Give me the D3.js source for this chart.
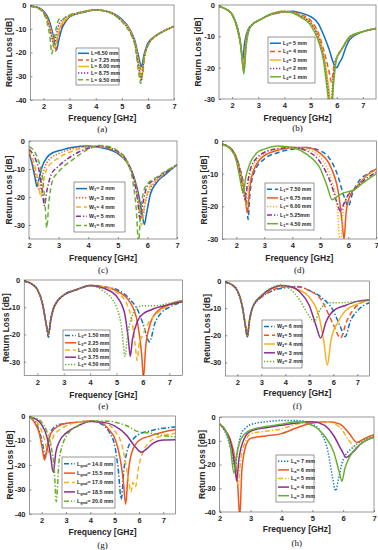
<!DOCTYPE html>
<html>
<head>
<meta charset="utf-8">
<script src="https://cdn.jsdelivr.net/npm/d3@7"></script>
<style>
  body { margin: 0; background: #fff; }
  svg { display: block; font-family: "Liberation Sans", Arial, sans-serif; }
</style>
</head>
<body>
<svg id="chart" width="378" height="550"></svg>
<script>
// ---- data (frequency GHz, return loss dB) ----
const colors = ["#0b72c6", "#f0561d", "#f5b120", "#8a2e93", "#6ab02f"];

// (a) L
const aLabels = ["L=6.50 mm", "L= 7.25 mm", "L= 8.00 mm", "L= 8.75 mm", "L= 9.50 mm"];
const a1 = [[1.5,-0.5],[1.8,-1],[2.0,-2.5],[2.2,-6],[2.35,-12],[2.45,-17.5],[2.5,-19],[2.58,-15],[2.7,-10],[2.85,-7],[3.0,-5],[3.5,-3.2],[4.0,-2.1],[4.5,-2.8],[5.0,-6],[5.3,-10],[5.5,-15],[5.65,-22],[5.75,-26],[5.85,-21],[6.0,-16],[6.3,-13],[6.6,-11],[7.0,-9]];
const a2 = [[1.5,-0.5],[1.8,-1.2],[2.0,-3],[2.2,-7],[2.35,-14],[2.45,-19.5],[2.53,-15],[2.65,-10],[2.85,-6.5],[3.0,-4.8],[3.5,-3],[4.0,-2],[4.5,-2.9],[5.0,-6.5],[5.3,-10.5],[5.5,-16],[5.68,-25],[5.78,-30],[5.87,-22],[6.0,-17],[6.3,-13],[6.6,-11],[7.0,-9]];
const a3 = [[1.5,-0.5],[1.8,-1.2],[2.0,-3],[2.2,-7.5],[2.35,-14],[2.43,-18],[2.52,-14],[2.65,-9],[2.85,-6],[3.0,-4.7],[3.5,-3],[4.0,-2],[4.5,-3],[5.0,-6.5],[5.3,-10.5],[5.5,-16],[5.67,-26],[5.76,-31],[5.86,-22],[6.0,-17],[6.3,-13],[6.6,-11],[7.0,-9]];
const a4 = [[1.5,-0.5],[1.8,-1.3],[2.0,-3.2],[2.2,-8],[2.32,-14],[2.4,-17],[2.48,-13],[2.6,-8],[2.8,-5.5],[3.0,-4.5],[3.5,-2.9],[4.0,-2],[4.5,-3],[5.0,-6.8],[5.3,-11],[5.5,-16.5],[5.66,-27],[5.74,-32],[5.84,-23],[6.0,-17],[6.3,-13],[6.6,-11],[7.0,-9]];
const a5 = [[1.5,-0.5],[1.8,-1.5],[2.0,-3.5],[2.15,-8],[2.25,-14],[2.32,-20.5],[2.4,-15],[2.5,-9],[2.6,-6],[2.7,-6.5],[2.85,-5],[3.0,-4.2],[3.5,-2.8],[4.0,-2],[4.5,-3],[5.0,-7],[5.3,-11.5],[5.5,-17],[5.64,-28],[5.72,-33],[5.82,-24],[6.0,-17],[6.3,-13],[6.6,-11],[7.0,-9]];

// (b) L2
const bLabels = ["L_2= 5 mm", "L_2= 4 mm", "L_2= 3 mm", "L_2= 2 mm", "L_2= 1 mm"];
const b1 = [[1.5,-0.5],[1.8,-1.5],[2.0,-3],[2.2,-7],[2.32,-12],[2.4,-18],[2.48,-12],[2.6,-8],[2.8,-6],[3.0,-5],[3.5,-3],[4.0,-2.2],[4.3,-2],[4.6,-2.5],[5.0,-3.7],[5.3,-6],[5.5,-9.6],[5.7,-14],[5.9,-19],[6.0,-20],[6.1,-18.5],[6.2,-17],[6.35,-13.5],[6.5,-11],[7.0,-8.5],[7.5,-7.5]];
const b2 = [[1.5,-0.5],[1.8,-1.5],[2.0,-3],[2.2,-7.5],[2.35,-14],[2.43,-20],[2.5,-13],[2.62,-8],[2.8,-6],[3.0,-5],[3.5,-3],[4.0,-2.2],[4.3,-2.2],[4.6,-3],[5.0,-4.9],[5.3,-9],[5.5,-14.3],[5.7,-21],[5.8,-24.5],[5.9,-19],[6.0,-17],[6.2,-14],[6.5,-10.5],[7.0,-8.5],[7.5,-7.5]];
const b3 = [[1.5,-0.5],[1.8,-1.5],[2.0,-3],[2.2,-7.5],[2.35,-14],[2.44,-21],[2.52,-13],[2.63,-8],[2.8,-6],[3.0,-5],[3.5,-3],[4.0,-2.1],[4.3,-2.3],[4.6,-3.3],[5.0,-5.5],[5.3,-10],[5.5,-16],[5.7,-27],[5.78,-33],[5.86,-24],[5.95,-18],[6.2,-14],[6.5,-10.3],[7.0,-8.5],[7.5,-7.5]];
const b4 = [[1.5,-0.5],[1.8,-1.5],[2.0,-3],[2.2,-7.5],[2.35,-14],[2.45,-21],[2.53,-13],[2.64,-8],[2.8,-6],[3.0,-5],[3.5,-3],[4.0,-2],[4.3,-2.4],[4.6,-3.5],[5.0,-5.8],[5.3,-10.5],[5.5,-17],[5.68,-28],[5.77,-34],[5.86,-24],[5.95,-18],[6.2,-14],[6.5,-10.2],[7.0,-8.5],[7.5,-7.5]];
const b5 = [[1.5,-0.5],[1.8,-1.5],[2.0,-3],[2.2,-7.5],[2.35,-14],[2.45,-22],[2.54,-13],[2.65,-8],[2.8,-6],[3.0,-5],[3.5,-2.8],[3.9,-2],[4.3,-2.5],[4.6,-3.8],[5.0,-6.4],[5.3,-11.5],[5.5,-18],[5.65,-28],[5.78,-36],[5.88,-25],[6.0,-17],[6.2,-14],[6.5,-10],[7.0,-8.5],[7.5,-7.5]];

// (c) W1
const cLabels = ["W_1= 2 mm", "W_1= 3 mm", "W_1= 4 mm", "W_1= 5 mm", "W_1= 6 mm"];
const c1 = [[2.0,-4],[2.1,-8],[2.2,-13],[2.27,-16.3],[2.35,-13],[2.45,-9],[2.6,-6],[2.8,-4.2],[3.0,-3.5],[3.5,-2.2],[4.0,-1.8],[4.5,-2.5],[5.0,-4.5],[5.3,-7.5],[5.55,-13],[5.7,-19],[5.82,-26],[5.9,-29.8],[5.97,-26],[6.1,-19],[6.3,-15],[6.6,-12],[7.0,-8.5]];
const c2 = [[2.0,-4.5],[2.15,-9],[2.28,-15],[2.35,-18],[2.42,-14],[2.55,-9],[2.75,-6],[3.0,-4.5],[3.5,-2.7],[4.0,-2],[4.5,-2.3],[5.0,-4.3],[5.3,-7.5],[5.55,-13],[5.7,-20],[5.83,-28],[5.93,-22],[6.1,-17],[6.4,-13.5],[7.0,-8.5]];
const c3 = [[2.0,-3.5],[2.2,-9],[2.32,-15],[2.4,-20],[2.48,-15],[2.6,-10],[2.8,-7.5],[3.0,-6],[3.5,-3.5],[4.0,-2.2],[4.5,-2],[5.0,-4],[5.3,-7.5],[5.55,-14],[5.7,-22],[5.8,-30],[5.9,-23],[6.05,-17],[6.4,-13],[7.0,-8.5]];
const c4 = [[2.0,-3],[2.2,-6],[2.35,-11],[2.45,-18],[2.52,-23],[2.6,-18],[2.75,-12],[3.0,-9],[3.5,-5],[4.0,-2.6],[4.4,-1.8],[5.0,-3.8],[5.3,-7],[5.55,-14],[5.68,-22],[5.75,-28],[5.85,-22],[6.0,-16],[6.3,-13.5],[7.0,-8.5]];
const c5 = [[2.0,-2],[2.2,-4],[2.35,-8],[2.48,-15],[2.55,-24],[2.6,-31],[2.67,-22],[2.8,-14],[3.0,-11],[3.5,-6.5],[4.0,-3],[4.4,-1.6],[4.7,-2],[5.0,-3.5],[5.3,-7],[5.5,-14],[5.62,-24],[5.7,-36],[5.78,-24],[5.95,-16],[6.3,-13],[7.0,-8.5]];

// (d) L1
const dLabels = ["L_1= 7.50 mm", "L_1= 6.75 mm", "L_1= 6.00 mm", "L_1= 5.25mm", "L_1= 4.50 mm"];
const d1 = [[1.5,-1],[1.8,-2.2],[2.0,-5],[2.15,-9],[2.3,-15],[2.38,-20],[2.42,-24],[2.48,-17],[2.62,-10],[3.0,-5.5],[3.5,-3.5],[4.0,-2.5],[4.5,-2],[5.0,-3],[5.3,-5],[5.6,-10],[5.85,-17],[6.0,-20],[6.15,-16],[6.4,-12],[6.7,-10],[7.0,-8.5]];
const d2 = [[1.5,-1],[1.8,-2.2],[2.0,-5],[2.15,-9.5],[2.28,-15],[2.4,-22],[2.47,-15],[2.62,-9],[3.0,-4.5],[3.5,-2.8],[4.0,-2],[4.5,-2],[5.0,-3.8],[5.4,-8.5],[5.65,-16],[5.78,-25],[5.85,-30],[5.92,-22],[6.05,-17],[6.3,-14],[6.6,-11],[7.0,-8.5]];
const d3v = [[1.5,-1],[1.8,-2.2],[2.0,-5],[2.15,-10],[2.28,-16],[2.37,-20],[2.44,-14],[2.58,-8],[3.0,-4],[3.5,-2.5],[4.0,-2],[4.5,-2.5],[5.0,-5],[5.4,-12],[5.6,-20],[5.72,-32],[5.8,-23],[5.95,-17],[6.3,-14],[6.6,-11],[7.0,-9]];
const d4 = [[1.5,-1],[1.8,-2.3],[2.0,-5.5],[2.15,-11],[2.25,-16],[2.32,-18],[2.4,-13],[2.55,-7.5],[3.0,-3.5],[3.5,-2.3],[4.0,-2],[4.5,-3],[5.0,-6.5],[5.4,-13.5],[5.6,-19],[5.72,-21.5],[5.85,-19],[6.0,-16.5],[6.2,-15],[6.5,-12.5],[7.0,-9.5]];
const d5 = [[1.5,-1],[1.8,-2.5],[2.0,-6],[2.12,-11],[2.25,-16],[2.34,-11],[2.48,-7],[2.75,-3.5],[3.0,-2.5],[3.5,-1.5],[4.0,-2],[4.5,-4],[5.0,-8.5],[5.25,-14],[5.42,-18],[5.6,-17],[5.8,-16],[6.0,-15.5],[6.2,-15],[6.5,-13],[7.0,-10]];

// (e) L3
const eLabels = ["L_3= 1.50 mm", "L_3= 2.25 mm", "L_3= 3.00 mm", "L_3= 3.75 mm", "L_3= 4.50 mm"];
const e1 = [[1.5,-0.5],[1.8,-1.5],[2.0,-3.5],[2.2,-9],[2.33,-16],[2.42,-21],[2.5,-15],[2.65,-9.5],[3.0,-5.5],[3.5,-3.5],[4.0,-2],[4.5,-2.5],[5.0,-3.5],[5.5,-7],[5.8,-11],[6.0,-16],[6.25,-22.7],[6.45,-16],[6.7,-12],[7.0,-10],[7.5,-8]];
const e2 = [[1.5,-0.5],[1.8,-1.5],[2.0,-3.5],[2.2,-9],[2.33,-16],[2.42,-20],[2.5,-15],[2.65,-9.5],[3.0,-5.5],[3.5,-3.5],[4.0,-2],[4.5,-2.5],[5.0,-4],[5.5,-8],[5.8,-16],[5.95,-27],[6.02,-36],[6.1,-25],[6.25,-17],[6.5,-12],[7.0,-9],[7.5,-7.5]];
const e3 = [[1.5,-0.5],[1.8,-1.5],[2.0,-3.5],[2.2,-9],[2.33,-16],[2.42,-20],[2.5,-15],[2.65,-9.5],[3.0,-5.5],[3.5,-3.5],[4.0,-2],[4.5,-2.5],[5.0,-4.5],[5.4,-9],[5.6,-16],[5.72,-25],[5.78,-29.5],[5.85,-24],[6.0,-20],[6.2,-16],[6.5,-12.5],[7.0,-9.5],[7.5,-8]];
const e4 = [[1.5,-0.5],[1.8,-1.5],[2.0,-3.5],[2.2,-9],[2.33,-16],[2.42,-20],[2.5,-15],[2.65,-9.5],[3.0,-5.5],[3.5,-3.5],[4.0,-2],[4.5,-3],[5.0,-6],[5.3,-12],[5.45,-22],[5.52,-28],[5.6,-22],[5.8,-15],[6.0,-12.5],[6.3,-11],[7.0,-9],[7.5,-8]];
const e5 = [[1.5,-0.5],[1.8,-1.5],[2.0,-3.5],[2.2,-9],[2.33,-16],[2.42,-20],[2.5,-15],[2.65,-9.5],[3.0,-5.5],[3.5,-3.5],[4.0,-2.2],[4.5,-4],[5.0,-10],[5.2,-18],[5.32,-28],[5.42,-20],[5.6,-13],[5.8,-10],[6.0,-9.5],[6.5,-9.5],[7.0,-8.5],[7.5,-7.5]];

// (f) W2
const fLabels = ["W_2= 6 mm", "W_2= 5 mm", "W_2= 4 mm", "W_2= 3 mm", "W_2= 2 mm"];
const f1 = [[1.5,-0.5],[1.8,-1.5],[2.0,-3.5],[2.2,-9],[2.33,-16],[2.42,-20.5],[2.5,-15],[2.65,-9.5],[3.0,-6],[3.5,-3.5],[4.0,-2.5],[4.5,-2],[5.0,-3.5],[5.5,-6],[6.0,-11],[6.3,-17],[6.5,-20.5],[6.7,-15],[7.0,-11],[7.5,-8]];
const f2 = [[1.5,-0.5],[1.8,-1.5],[2.0,-3.5],[2.2,-9],[2.33,-16],[2.42,-20.5],[2.5,-15],[2.65,-9.5],[3.0,-6],[3.5,-3.2],[4.0,-2.2],[4.5,-2.2],[5.0,-3.5],[5.5,-7],[6.0,-16],[6.3,-21],[6.55,-15],[7.0,-9],[7.5,-7]];
const f3 = [[1.5,-0.5],[1.8,-1.5],[2.0,-3.5],[2.2,-9],[2.33,-16],[2.42,-20.5],[2.5,-15],[2.65,-9.5],[3.0,-5.5],[3.5,-2.5],[3.8,-1.8],[4.5,-3],[5.0,-6],[5.4,-13],[5.6,-22],[5.75,-31],[5.9,-22],[6.2,-15],[6.5,-11],[7.0,-8.5],[7.5,-7]];
const f4 = [[1.5,-0.5],[1.8,-1.5],[2.0,-3.5],[2.2,-9],[2.33,-16],[2.42,-20.5],[2.5,-15],[2.65,-9.5],[3.0,-5.5],[3.5,-2.4],[3.8,-1.7],[4.2,-2],[4.6,-4],[5.0,-9],[5.3,-17],[5.47,-21],[5.7,-15],[6.0,-11],[6.5,-9],[7.0,-7.5],[7.5,-7]];
const f5 = [[1.5,-0.5],[1.8,-1.5],[2.0,-3.5],[2.2,-9],[2.33,-16],[2.42,-20.5],[2.5,-15],[2.65,-9.5],[3.0,-5.2],[3.5,-2.2],[3.8,-1.5],[4.2,-3],[4.6,-7],[5.0,-13],[5.2,-15],[5.45,-10.5],[5.8,-8],[6.2,-8],[7.0,-7.5],[7.5,-7]];

// (g) Lgnd
const gLabels = ["L_{gnd}= 14.0 mm", "L_{gnd}= 15.5 mm", "L_{gnd}= 17.0 mm", "L_{gnd}= 18.5 mm", "L_{gnd}= 20.0 mm"];
const g1 = [[1.5,-0.5],[1.7,-2],[1.9,-6],[2.05,-12],[2.15,-17],[2.25,-12],[2.4,-6],[2.7,-3.5],[3.0,-3],[3.5,-2.5],[4.0,-2],[4.5,-3.5],[4.8,-7],[5.0,-12],[5.15,-22],[5.27,-34],[5.38,-22],[5.55,-13],[5.8,-9],[6.0,-7.5],[6.5,-6],[7.0,-5],[7.5,-4.5]];
const g2 = [[1.5,-0.5],[1.7,-2.5],[1.9,-7],[2.02,-13],[2.12,-18],[2.22,-13],[2.38,-7],[2.7,-4],[3.0,-3],[3.5,-2.5],[4.0,-2],[4.5,-3],[4.8,-6],[5.0,-9],[5.2,-16],[5.35,-26],[5.45,-36],[5.55,-24],[5.7,-15],[6.0,-10],[6.5,-8],[7.0,-6.5],[7.5,-5.5]];
const g3 = [[1.5,-0.5],[1.8,-2.5],[2.0,-6],[2.15,-11],[2.25,-15],[2.35,-12],[2.5,-8],[2.75,-5.5],[3.0,-4],[3.5,-2.5],[4.0,-2],[4.5,-2.5],[5.0,-6],[5.3,-12],[5.5,-22],[5.6,-28],[5.67,-31],[5.75,-27],[5.85,-29],[6.0,-20],[6.2,-14],[6.5,-10],[7.0,-8],[7.5,-7]];
const g4 = [[1.5,-0.5],[1.8,-1.5],[2.0,-3.5],[2.2,-8],[2.35,-15],[2.48,-23],[2.58,-15],[2.75,-10],[3.0,-7],[3.5,-4],[4.0,-2.2],[4.5,-2.5],[5.0,-4],[5.5,-8],[5.8,-12],[6.1,-14.8],[6.3,-13.5],[6.6,-11],[7.0,-9.8],[7.5,-9.7]];
const g5 = [[1.5,-0.5],[1.8,-1],[2.0,-2.5],[2.2,-6],[2.4,-13],[2.52,-22],[2.6,-35],[2.7,-20],[2.85,-12],[3.0,-8.5],[3.5,-4],[4.0,-2],[4.5,-2],[5.0,-2.5],[5.5,-4],[6.0,-6.5],[6.5,-7],[7.0,-8],[7.5,-8.5]];

// (h) La
const hLabels = ["L_a= 7 mm", "L_a= 6 mm", "L_a= 5 mm", "L_a= 4 mm", "L_a= 3 mm"];
const h1 = [[2.0,-3],[2.2,-7],[2.35,-13],[2.45,-19],[2.5,-22],[2.58,-14],[2.7,-7],[2.85,-4.5],[3.0,-3.2],[3.5,-2],[4.0,-1.5],[4.5,-1.5],[5.0,-3],[5.3,-7],[5.5,-14],[5.65,-25],[5.76,-31],[5.85,-26],[6.0,-18],[6.3,-13],[6.6,-10],[7.0,-8]];
const h2 = [[2.0,-3],[2.2,-6],[2.35,-10],[2.5,-18],[2.58,-28],[2.65,-42],[2.72,-22],[2.85,-12],[3.0,-9],[3.5,-8],[4.0,-7],[4.5,-4.5],[5.0,-2.5],[5.5,-2],[5.9,-3],[6.2,-7],[6.45,-10.7],[6.7,-9],[7.0,-7.5]];
const h3 = [[2.0,-3],[2.2,-6],[2.4,-12],[2.52,-22],[2.6,-28.7],[2.68,-18],[2.85,-10],[3.0,-7],[3.5,-6],[4.0,-5],[4.5,-3],[5.0,-2],[5.5,-2],[5.9,-4.5],[6.2,-10],[6.4,-13],[6.6,-11],[7.0,-8]];
const h4 = [[2.0,-3],[2.2,-6],[2.4,-13],[2.5,-22],[2.55,-26.8],[2.62,-18],[2.8,-9],[3.0,-6],[3.5,-4.5],[4.0,-3.5],[4.5,-2.5],[5.0,-2],[5.4,-3.5],[5.7,-8],[5.95,-14],[6.1,-17],[6.3,-15],[6.6,-11],[7.0,-8.5]];
const h5 = [[2.0,-3],[2.2,-6],[2.35,-13],[2.46,-23.7],[2.55,-16],[2.7,-9],[3.0,-5.5],[3.5,-4],[4.0,-3],[4.5,-2],[5.0,-3.5],[5.4,-8],[5.7,-15],[5.87,-23],[5.96,-27],[6.05,-22],[6.2,-17],[6.5,-12],[7.0,-8.5]];

const xTicks = [2, 3, 4, 5, 6, 7];

// ---- layout ----
const DASH = { solid: null, dash: "5,3", dot: "1.3,1.7", dashdot: "5,2,1.3,2" };

const panels = [
  { tag: "(a)", series: [a1, a2, a3, a4, a5], labels: aLabels, styles: ["solid","dash","solid","dot","dash"],
    x: [1.5, 7], y: [-40, 0], box: [30.5, 5, 174, 100], yTicks: [0,-10,-20,-30,-40],
    leg: [76, 48, 43, 37], ylab: 9, xlabY: 118, tagY: 129 },
  { tag: "(b)", series: [b1, b2, b3, b4, b5], labels: bLabels, styles: ["solid","dash","solid","dot","solid"],
    x: [1.5, 7.5], y: [-30, 0], box: [219, 5, 376, 99], yTicks: [0,-10,-20,-30],
    leg: [268, 37, 47, 46], ylab: 198, xlabY: 118, tagY: 128 },
  { tag: "(c)", series: [c1, c2, c3, c4, c5], labels: cLabels, styles: ["solid","dot","dash","dashdot","dash"],
    x: [2, 7], y: [-35, 0], box: [29, 141, 177, 239], yTicks: [0,-10,-20,-30],
    leg: [74, 182, 51, 50], ylab: 9, xlabY: 258, tagY: 270 },
  { tag: "(d)", series: [d1, d2, d3v, d4, d5], labels: dLabels, styles: ["dash","solid","dot","dashdot","solid"],
    x: [1.5, 7], y: [-30, 0], box: [222.3, 141, 376.3, 239], yTicks: [0,-10,-20,-30],
    leg: [265, 183, 49, 47], ylab: 204, xlabY: 258, tagY: 270 },
  { tag: "(e)", series: [e1, e2, e3, e4, e5], labels: eLabels, styles: ["dashdot","solid","dash","solid","dot"],
    x: [1.5, 7.5], y: [-35, 0], box: [24.2, 280, 182.5, 375.3], yTicks: [0,-10,-20,-30],
    leg: [63, 330, 47, 40], ylab: 6, xlabY: 395, tagY: 406 },
  { tag: "(f)", series: [f1, f2, f3, f4, f5], labels: fLabels, styles: ["dashdot","dash","solid","solid","dot"],
    x: [1.5, 7.5], y: [-35, 0], box: [225.3, 281, 369.3, 376], yTicks: [0,-10,-20,-30],
    leg: [262, 320, 40, 48], ylab: 207, xlabY: 393, tagY: 406 },
  { tag: "(g)", series: [g1, g2, g3, g4, g5], labels: gLabels, styles: ["dashdot","solid","dash","solid","dashdot"],
    x: [1.5, 7.5], y: [-40, 0], box: [29.5, 416, 175.5, 514], yTicks: [0,-10,-20,-30,-40],
    leg: [62, 457, 53, 51], ylab: 10, xlabY: 532, tagY: 545 },
  { tag: "(h)", series: [h1, h2, h3, h4, h5], labels: hLabels, styles: ["dot","solid","dashdot","solid","solid"],
    x: [2, 7], y: [-40, 0], box: [219.7, 417, 374, 512], yTicks: [0,-10,-20,-30,-40],
    leg: [276, 455, 38, 47], ylab: 202, xlabY: 529, tagY: 543 }
];

const svg = d3.select("#chart");
const ink = "#262626";

// label with optional subscript: "L_2= 5 mm" or "L_{gnd}= 14.0 mm"
function subText(sel, str) {
  const m = str.match(/^([^_]*)_(\{([^}]*)\}|(.))(.*)$/);
  if (!m) { sel.text(str); return; }
  sel.append("tspan").text(m[1]);
  sel.append("tspan").attr("baseline-shift", "-25%").attr("font-size", "0.75em").text(m[3] || m[4]);
  sel.append("tspan").text(m[5]);
}

panels.forEach((p, pi) => {
  const [x0, y0, x1, y1] = p.box;
  const x = d3.scaleLinear().domain(p.x).range([x0, x1]);
  const y = d3.scaleLinear().domain(p.y).range([y1, y0]);
  const g = svg.append("g");

  g.append("rect").attr("x", x0).attr("y", y0).attr("width", x1 - x0).attr("height", y1 - y0).attr("fill", "#fff");

  const clipId = "clip" + pi;
  g.append("clipPath").attr("id", clipId).append("rect")
    .attr("x", x0).attr("y", y0).attr("width", x1 - x0).attr("height", y1 - y0);

  const line = d3.line().x(d => x(d[0])).y(d => y(d[1])).curve(d3.curveMonotoneX);
  const lines = g.append("g").attr("clip-path", `url(#${clipId})`);
  p.series.forEach((s, i) => {
    lines.append("path").datum(s)
      .attr("fill", "none")
      .attr("stroke", colors[i])
      .attr("stroke-width", 1.5)
      .attr("stroke-dasharray", DASH[p.styles[i]])
      .attr("d", line);
  });

  // axes (inward ticks, box)
  const xAxis = g.append("g").attr("transform", `translate(0,${y1})`)
    .call(d3.axisBottom(x).tickValues(xTicks).tickSizeInner(-2).tickSizeOuter(0).tickPadding(4).tickFormat(d3.format("d")));
  const yAxis = g.append("g").attr("transform", `translate(${x0},0)`)
    .call(d3.axisLeft(y).tickValues(p.yTicks).tickSizeInner(-2).tickSizeOuter(0).tickPadding(4).tickFormat(d => d === 0 ? "0" : "-" + Math.abs(d)));
  [xAxis, yAxis].forEach(a => {
    a.select(".domain").remove();
    a.selectAll("line").attr("stroke", ink).attr("stroke-width", 0.5);
    a.selectAll("text").attr("fill", ink).attr("font-size", 7.5).attr("font-weight", "bold");
  });
  g.append("rect").attr("x", x0).attr("y", y0).attr("width", x1 - x0).attr("height", y1 - y0)
    .attr("fill", "none").attr("stroke", "#555").attr("stroke-width", 0.6);

  g.append("text").attr("x", (x0 + x1) / 2).attr("y", p.xlabY).attr("dy", "0.35em")
    .attr("text-anchor", "middle").attr("font-size", 8.5).attr("font-weight", "bold").attr("fill", ink)
    .text("Frequency [GHz]");
  g.append("text").attr("transform", `translate(${p.ylab},${(y0 + y1) / 2}) rotate(-90)`)
    .attr("text-anchor", "middle").attr("dy", "0.35em").attr("font-size", 8.5).attr("font-weight", "bold").attr("fill", ink)
    .text("Return Loss [dB]");
  g.append("text").attr("x", (x0 + x1) / 2).attr("y", p.tagY).attr("dy", "0.35em")
    .attr("text-anchor", "middle").attr("font-size", 9).attr("font-family", "'Liberation Serif', serif").attr("fill", "#111")
    .text(p.tag);

  // legend
  const [lx, ly, lw, lh] = p.leg;
  const lg = g.append("g").attr("transform", `translate(${lx},${ly})`);
  lg.append("rect").attr("width", lw).attr("height", lh).attr("fill", "#fff")
    .attr("stroke", "#333").attr("stroke-width", 0.5);
  const rowH = (lh - 4) / 5;
  p.labels.forEach((lab, i) => {
    const cy = 2 + rowH * (i + 0.5);
    lg.append("line").attr("x1", 2).attr("x2", 13).attr("y1", cy).attr("y2", cy)
      .attr("stroke", colors[i]).attr("stroke-width", 1.5).attr("stroke-dasharray", DASH[p.styles[i]]);
    const t = lg.append("text").attr("x", 15).attr("y", cy).attr("dy", "0.35em")
      .attr("font-size", 5.3).attr("font-weight", "bold").attr("fill", ink);
    subText(t, lab);
  });
});
</script>
</body>
</html>
